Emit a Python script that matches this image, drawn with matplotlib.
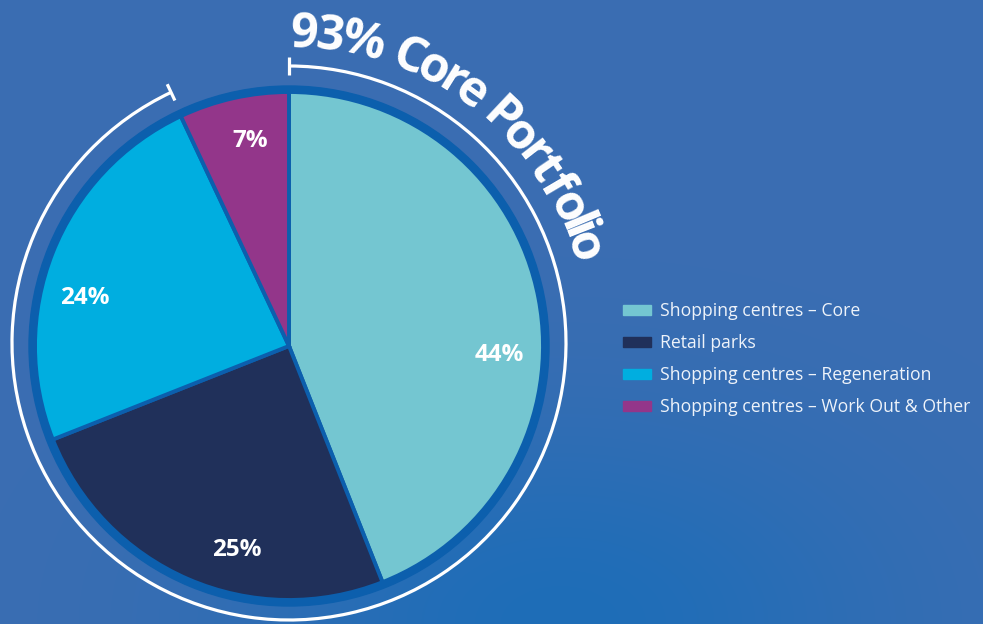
import numpy as np
import matplotlib.pyplot as plt
from matplotlib.patches import Arc, Wedge, Rectangle
from matplotlib.textpath import TextPath
from matplotlib.font_manager import FontProperties

# portfolio split
categories = ['Shopping centres – Core', 'Retail parks',
              'Shopping centres – Regeneration', 'Shopping centres – Work Out & Other']
shares = [44, 25, 24, 7]
colors = ['#74c6d1', '#20305a', '#00aee0', '#93368a']
core_share = sum(shares[:3])

W, H = 983, 624
fig = plt.figure(figsize=(W / 100, H / 100), dpi=100)
ax = fig.add_axes([0, 0, 1, 1])

cx, cy, r = 289, 278, 254
ring_col = '#0c5fad'

wedges, _ = ax.pie(shares, colors=colors, startangle=90, counterclock=False,
                   center=(cx, cy), radius=r,
                   wedgeprops=dict(edgecolor=ring_col, linewidth=2.8))
for w in wedges:
    w.set_zorder(2)

# pie() resets the limits, so set the pixel frame afterwards
ax.set_xlim(0, W)
ax.set_ylim(0, H)
ax.set_aspect('equal')
ax.axis('off')

# soft blue background
yy, xx = np.mgrid[0:H, 0:W]
base = np.array([0x3b, 0x6d, 0xb2]) / 255
bright = np.array([0x1e, 0x6e, 0xb8]) / 255
blob = np.exp(-(((xx - 560) / 320) ** 2 + ((yy - 0) / 200) ** 2))
bg = base[None, None, :] * (1 - blob[..., None]) + bright[None, None, :] * blob[..., None]
ax.imshow(bg, extent=(0, W, 0, H), origin='lower', zorder=0)
ax.set_xlim(0, W)
ax.set_ylim(0, H)

# dark ring round the pie
ax.add_patch(Wedge((cx, cy), r + 6, 0, 360, width=9, color=ring_col, zorder=1))

# percentage labels
label_nudge = [-13, 9, 8, -2]
start = 90
for val, nudge in zip(shares, label_nudge):
    mid = start - 360 * val / 100 / 2
    a = np.radians(mid + nudge)
    ax.text(cx + 210 * np.cos(a), cy + 210 * np.sin(a) - 1, f'{val}%',
            color='white', fontsize=17.5, fontweight='bold', family='Open Sans',
            ha='center', va='center', zorder=3)
    start -= 360 * val / 100

# bracket arc for the core share
acx, acy, ar = 289, 281, 277
end_ang = 90 - 360 * core_share / 100 + 360
ax.add_patch(Arc((acx, acy), 2 * ar, 2 * ar, theta1=end_ang, theta2=450,
                 color='white', linewidth=2.3, zorder=3))
for ang in (90, end_ang):
    a = np.radians(ang)
    ax.plot([acx + (ar - 9) * np.cos(a), acx + (ar + 9) * np.cos(a)],
            [acy + (ar - 9) * np.sin(a), acy + (ar + 9) * np.sin(a)],
            color='white', linewidth=2.3, solid_capstyle='butt', zorder=3)

# curved title along the arc
title = f'{core_share}% Core Portfolio'
fp = FontProperties(family='Open Sans', weight='bold', size=35)
px = 100 / 72
widths = []
for ch in title:
    if ch == ' ':
        widths.append(TextPath((0, 0), 'n', prop=fp).get_extents().width * 0.5 * px)
    else:
        widths.append(TextPath((0, 0), ch, prop=fp).get_extents().width * px)
rb = 296
a0, a1 = 89.6, 15.5
span = np.radians(a0 - a1) * rb
gap = (span - sum(widths)) / (len(title) - 1)
pos = 0.0
for ch, w in zip(title, widths):
    centre = pos + w / 2
    ang = a0 - np.degrees(centre / rb)
    a = np.radians(ang)
    ax.text(acx + rb * np.cos(a), acy + rb * np.sin(a), ch, fontproperties=fp,
            color='white', rotation=ang - 90, rotation_mode='anchor',
            ha='center', va='baseline', zorder=3)
    pos += w + gap

# legend
for i, (lab, col) in enumerate(zip(categories, colors)):
    y = H - (310 + 32 * i)
    ax.add_patch(Rectangle((623, y - 5), 28, 10, color=col, zorder=3))
    ax.text(660, y - 1, lab, color='#eef3fa', fontsize=12.7, family='Open Sans',
            ha='left', va='center', zorder=3)

fig.savefig('out.png', dpi=100)
